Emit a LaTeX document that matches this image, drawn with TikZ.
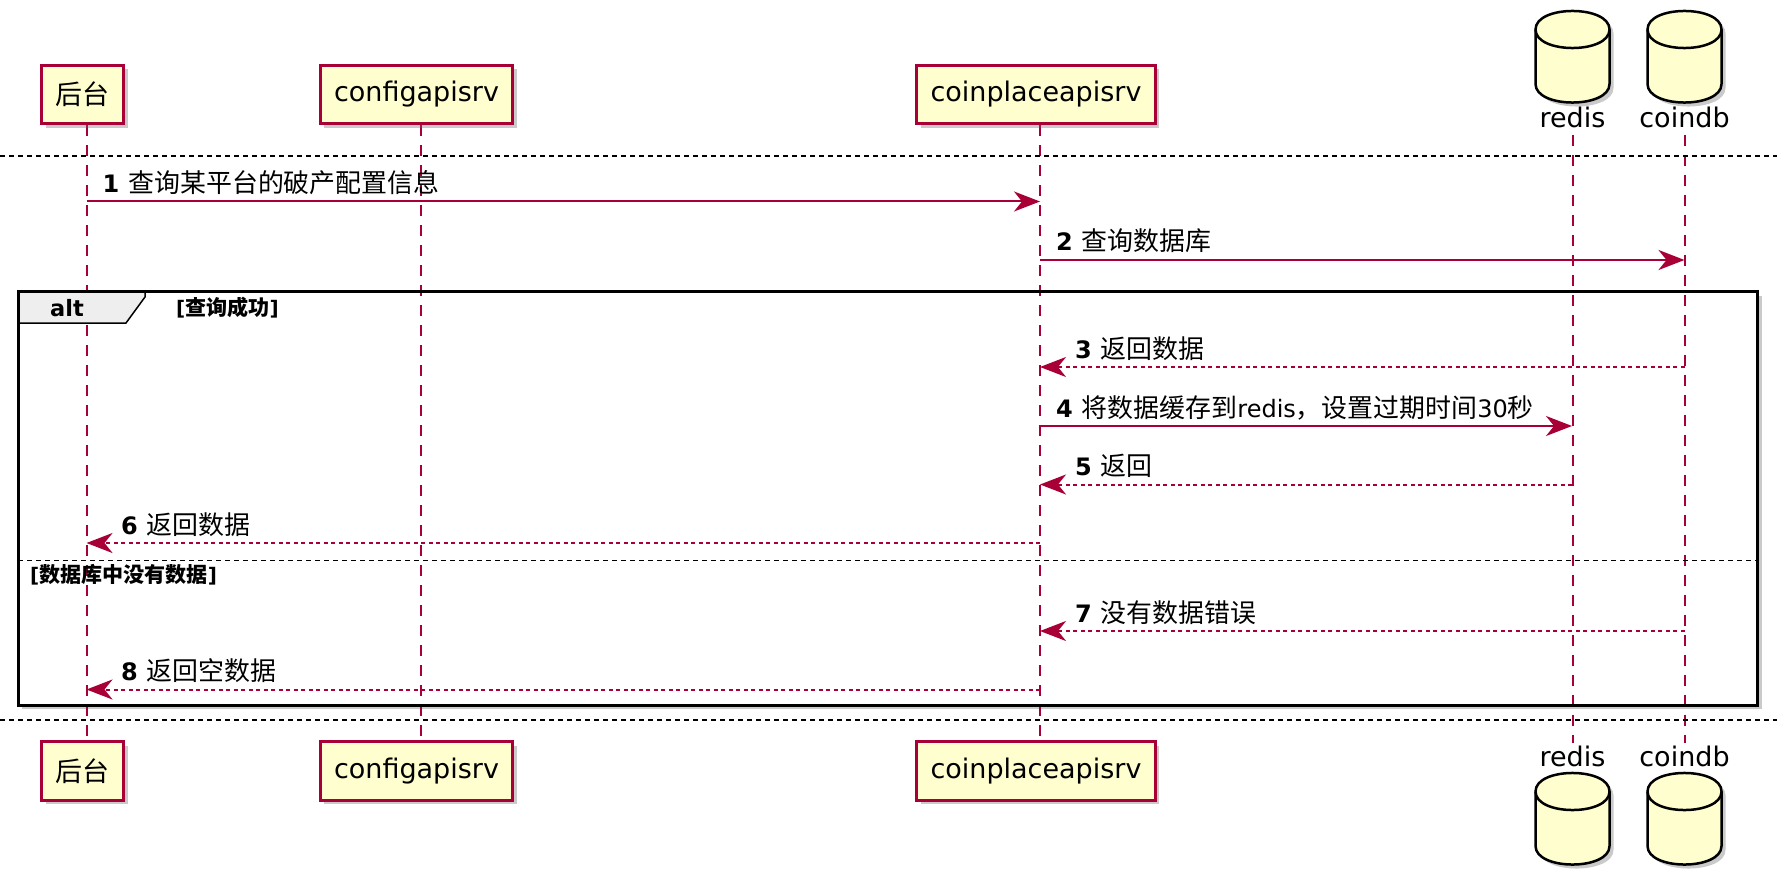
\documentclass[tikz,border=0pt]{standalone}
\usepackage{fontspec}
\setmainfont{DejaVu Sans}
\newfontfamily\cjk[Scale=1.08]{Noto Sans CJK SC}
\usetikzlibrary{arrows.meta,shadows,backgrounds}
\definecolor{umlred}{HTML}{A80036}
\definecolor{umlfill}{HTML}{FEFECE}
\definecolor{tabfill}{HTML}{EEEEEE}

\begin{document}
\begin{tikzpicture}[
            x=1pt, y=-1pt,
            shade/.style={drop shadow={shadow xshift=4pt, shadow yshift=-4pt, opacity=.35, fill=black!60}},
            part/.style={draw=umlred, fill=umlfill, line width=3pt, minimum height=58.5pt, inner xsep=14pt, inner ysep=0pt, font=\fontsize{27}{32}\selectfont, shade},
            dbname/.style={anchor=base, inner sep=0pt, font=\fontsize{27}{32}\selectfont},
            cyl/.style={draw=black, fill=umlfill, line width=2.5pt},
            lifeline/.style={draw=umlred, line width=2pt, dash pattern=on 11pt off 9pt},
            msg/.style={draw=umlred, line width=2pt, -{Stealth[length=26pt, width=20pt, inset=8pt]}},
            ret/.style={msg, dash pattern=on 4pt off 3.5pt},
            lbl/.style={anchor=base west, inner sep=0pt, font=\fontsize{24}{28}\selectfont},
            sep/.style={draw=black, line width=2pt, dash pattern=on 5pt off 4pt},
            guard/.style={anchor=base west, inner sep=0pt, font=\bfseries\fontsize{20}{24}\selectfont}
        ]
        \useasboundingbox (0,0) rectangle (1790,877);

        % Participants - top
        \node[part, font=\cjk\fontsize{25}{30}\selectfont] (bt) at (82.5,94.5) {后台};
        \node[part] (cfg) at (416.5,94.5) {configapisrv};
        \node[part] (cp) at (1036,94.5) {coinplaceapisrv};
        \node[dbname] (rd) at (1572.5,128) {redis};
        \node[dbname] (db) at (1684.5,128) {coindb};

        % Participants - bottom
        \node[part, font=\cjk\fontsize{25}{30}\selectfont] (bt2) at (82.5,771) {后台};
        \node[part] (cfg2) at (416.5,771) {configapisrv};
        \node[part] (cp2) at (1036,771) {coinplaceapisrv};
        \node[dbname] (rd2) at (1572.5,766.7) {redis};
        \node[dbname] (db2) at (1684.5,766.7) {coindb};

        % Databases
        \foreach \cx/\ty in {1572.5/29.5, 1684.5/29.5, 1572.5/791.5, 1684.5/791.5} {
            \path[cyl, shade] (\cx-37,\ty) .. controls (\cx-37,\ty-24.7) and (\cx+37,\ty-24.7) .. (\cx+37,\ty) -- (\cx+37,\ty+54.5) .. controls (\cx+37,\ty+79.2) and (\cx-37,\ty+79.2) .. (\cx-37,\ty+54.5) -- cycle;
            \draw[cyl, fill=none] (\cx-37,\ty) .. controls (\cx-37,\ty+24.7) and (\cx+37,\ty+24.7) .. (\cx+37,\ty);
        }

        % Lifeline positions
        \coordinate (xbt) at (86.5,0);
        \coordinate (xcp) at (1040,0);
        \coordinate (xrd) at (1572,0);
        \coordinate (xdb) at (1684.5,0);

        \begin{scope}[on background layer]
            \fill[white, shade] (18.2,291.5) rectangle (1757.7,705);
            \draw[lifeline] ([xshift=4pt]bt.south) -- ([xshift=4pt]bt2.north);
            \draw[lifeline] ([xshift=4pt]cfg.south) -- ([xshift=4pt]cfg2.north);
            \draw[lifeline] ([xshift=4pt]cp.south) -- ([xshift=4pt]cp2.north);
            \draw[lifeline] ([yshift=-6pt]rd.south) -- ([yshift=3pt]rd2.north);
            \draw[lifeline] ([yshift=-6pt]db.south) -- ([yshift=3pt]db2.north);
        \end{scope}

        % Separators
        \draw[sep] (0,156) -- (1777,156);
        \draw[sep] (0,720) -- (1777,720);

        % alt frame
        \draw[fill=tabfill, line width=1.5pt] (18.2,291.5) -- (145,291.5) -- (145,297) -- (126,323) -- (18.2,323) -- cycle;
        \draw[line width=3pt] (18.2,291.5) rectangle (1757.7,705);
        \node[guard, font=\bfseries\fontsize{22.5}{26}\selectfont] (alt) at (50,316) {alt};
        \node[guard] (ok) at (176,315) {[{\cjk\fontsize{19.5}{24}\selectfont 查询成功}]};
        \draw[sep, line width=1.5pt] (18.2,560.5) -- (1757.7,560.5);
        \node[guard] (empty) at (30,582) {[{\cjk\fontsize{19.5}{24}\selectfont 数据库中没有数据}]};

        % Messages
        \draw[msg] (xbt |- 0,201.5) -- (xcp |- 0,201.5);
        \node[lbl] (m1) at (102.5,192.5) {\textbf{1}\hspace{9pt}{\cjk 查询某平台的破产配置信息}};

        \draw[msg] (xcp |- 0,260) -- (xdb |- 0,260);
        \node[lbl] (m2) at (1056,251) {\textbf{2}\hspace{9pt}{\cjk 查询数据库}};

        \draw[ret] (xdb |- 0,367) -- (xcp |- 0,367);
        \node[lbl] (m3) at (1075,358) {\textbf{3}\hspace{9pt}{\cjk 返回数据}};

        \draw[msg] (xcp |- 0,426) -- (xrd |- 0,426);
        \node[lbl] (m4) at (1056,417) {\textbf{4}\hspace{9pt}{\cjk 将数据缓存到}redis{\cjk ，设置过期时间}30{\cjk 秒}};

        \draw[ret] (xrd |- 0,484.5) -- (xcp |- 0,484.5);
        \node[lbl] (m5) at (1075,475.5) {\textbf{5}\hspace{9pt}{\cjk 返回}};

        \draw[ret] (xcp |- 0,543) -- (xbt |- 0,543);
        \node[lbl] (m6) at (121,534) {\textbf{6}\hspace{9pt}{\cjk 返回数据}};

        \draw[ret] (xdb |- 0,631) -- (xcp |- 0,631);
        \node[lbl] (m7) at (1075,622) {\textbf{7}\hspace{9pt}{\cjk 没有数据错误}};

        \draw[ret] (xcp |- 0,689.5) -- (xbt |- 0,689.5);
        \node[lbl] (m8) at (121,680.5) {\textbf{8}\hspace{9pt}{\cjk 返回空数据}};

    \end{tikzpicture}
\end{document}
